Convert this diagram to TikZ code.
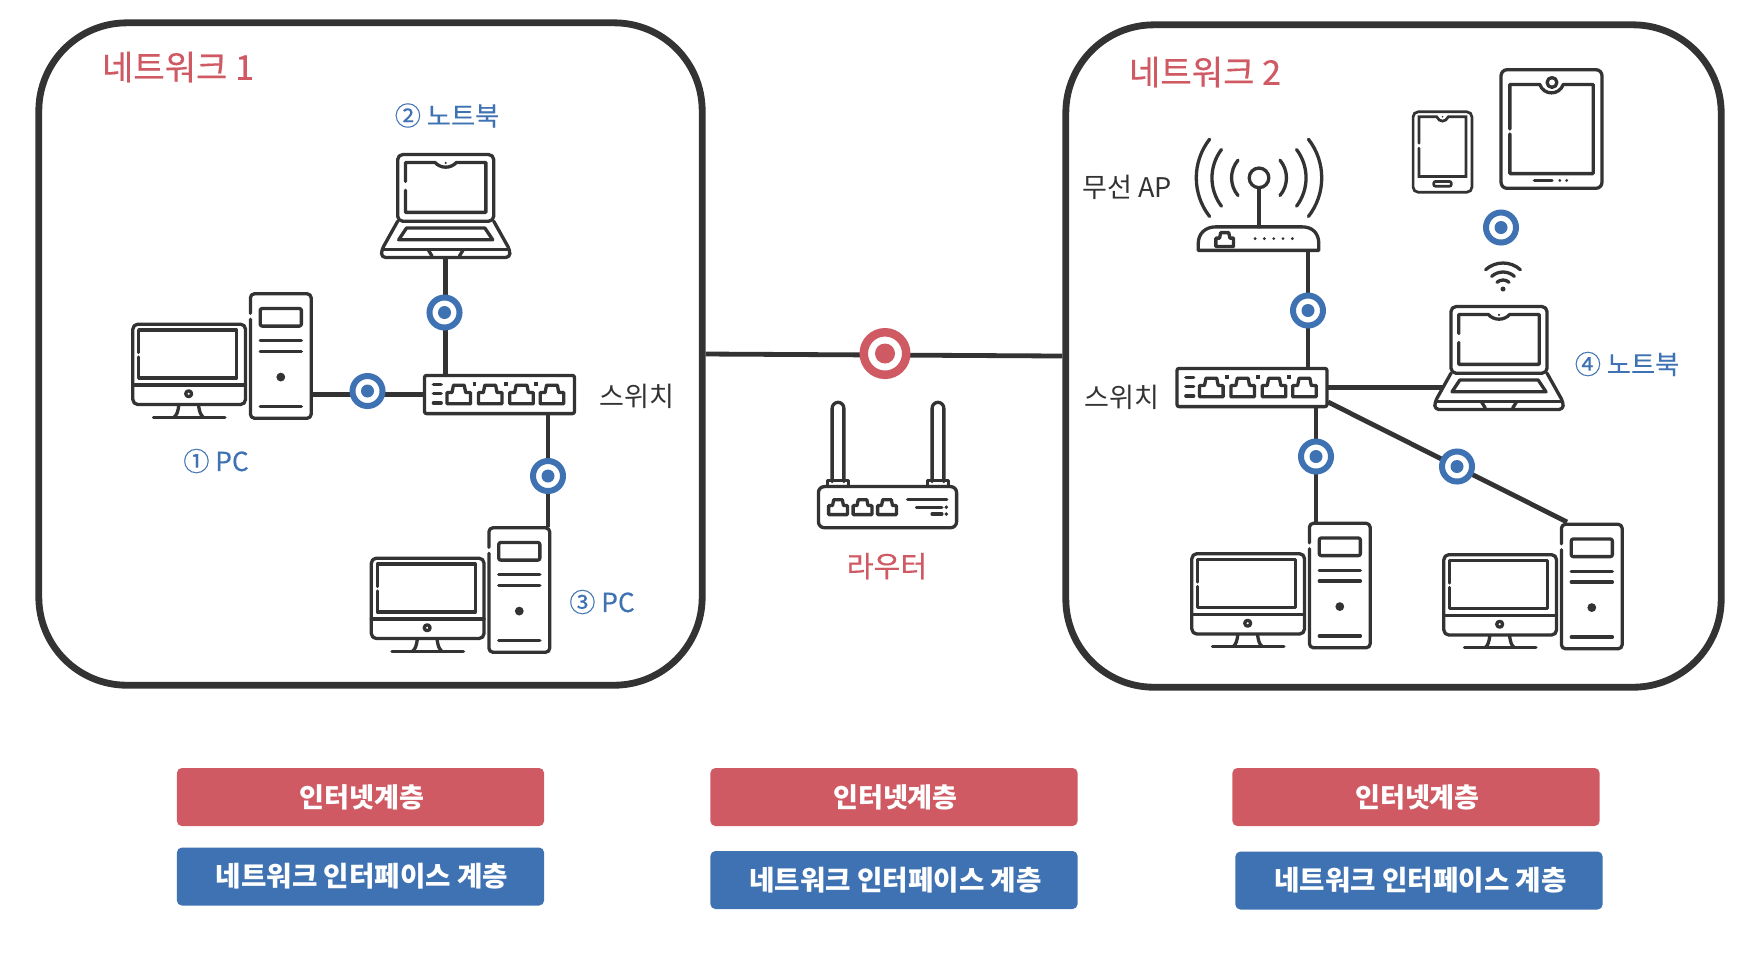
\documentclass[tikz,border=0pt]{standalone}
\usepackage{fontspec}
\usepackage{xcolor}
\usetikzlibrary{backgrounds}
\setmainfont{Noto Sans CJK KR}
\newfontfamily\medfont[FakeBold=0.35]{Noto Sans CJK KR}

\definecolor{netred}{HTML}{CF5A63}
\definecolor{netblue}{HTML}{3F72B2}
\definecolor{netdark}{HTML}{333333}

% ethernet jack: x, y, scale
\newcommand{\jackat}[3]{
  \draw[iconline,shift={(#1,#2)},scale=#3] (-12,9.5) -- (12,9.5) -- (12,-2) -- (7,-2) -- (5.5,-9.5) -- (-5.5,-9.5) -- (-7,-2) -- (-12,-2) -- cycle;
}
\newcommand{\btntxt}[1]{\hspace*{0.03cm}\raisebox{-0.03cm}{#1}}

\tikzset{
  iconline/.style={draw=netdark,line width=0.033cm,line join=round,line cap=round},
  thinline/.style={draw=netdark,line width=0.027cm,line cap=round},
  link/.style={draw=netdark,line width=0.048cm},
  netbox/.style={draw=netdark,line width=0.068cm,rounded corners=0.88cm,minimum height=6.62cm},
  iconnode/.style={inner sep=0pt,outer sep=0pt},
  iconpic/.style={scale=0.98},
  bluedot/.style={circle,inner sep=0pt,draw=netblue,fill=white,line width=0.06cm,minimum size=0.30cm,
    path picture={\fill[netblue] (path picture bounding box.center) circle (0.065cm);}},
  reddot/.style={circle,inner sep=0pt,draw=netred,fill=white,line width=0.085cm,minimum size=0.425cm,
    path picture={\fill[netred] (path picture bounding box.center) circle (0.10cm);}},
  nettitle/.style={text=netred,inner sep=0pt,font=\medfont\fontsize{9.7}{11}\selectfont},
  redtxt/.style={text=netred,inner sep=0pt,font=\medfont\fontsize{8.3}{10}\selectfont},
  bluetxt/.style={text=netblue,inner sep=0pt,font=\medfont\fontsize{7.45}{9}\selectfont},
  darktxt/.style={text=netdark,inner sep=0pt,font=\fontsize{7.7}{9}\selectfont},
  redbtn/.style={fill=netred,text=white,rounded corners=0.05cm,minimum width=3.67cm,minimum height=0.58cm,inner sep=0pt,font=\fontsize{7.7}{9}\selectfont\bfseries},
  bluebtn/.style={fill=netblue,text=white,rounded corners=0.05cm,minimum width=3.67cm,minimum height=0.58cm,inner sep=0pt,font=\fontsize{7.85}{9}\selectfont\bfseries},
  pcicon/.pic={
    \draw[iconline,rounded corners=0.05cm] (-91,-32.5) rectangle (24,49.5);
    \draw[iconline] (-85,1) -- (-85,22.5) -- (15,22.5) -- (15,-26.5) -- (-85,-26.5) -- (-85,-3.5);
    \draw[iconline] (-91,29.5) -- (24,29.5);
    \draw[iconline] (-34,38.5) circle (3);
    \draw[iconline] (-44,50) .. controls (-45,57) and (-46,60) .. (-49,62.5);
    \draw[iconline] (-24,50) .. controls (-23,57) and (-22,60) .. (-19,62.5);
    \draw[iconline] (-70,62.5) -- (3,62.5);
    \draw[iconline,rounded corners=0.04cm] (29,-37.5) -- (29,63.5) -- (91,63.5) -- (91,-63.5) -- (29,-63.5) -- (29,-43.5);
    \draw[iconline,rounded corners=0.02cm] (39,-48.5) rectangle (81,-30.5);
    \draw[iconline] (39,-15.5) -- (81,-15.5);
    \draw[iconline] (39,-4.5) -- (81,-4.5);
    \fill[netdark] (60,21.5) circle (4.5);
    \draw[iconline] (39,51.5) -- (81,51.5);
  },
  laptopicon/.pic={
    \draw[iconline,rounded corners=0.05cm] (-49,15.5) -- (-49,-52.5) -- (49,-52.5) -- (49,15.5) -- cycle;
    \draw[iconline] (-41,-16) -- (-41,6.5) -- (41,6.5) -- (41,-44.5) -- (11,-44.5) .. controls (5,-38) and (-5,-38) .. (-11,-44.5) -- (-41,-44.5) -- (-41,-25);
    \fill[netdark] (0,-44) circle (1.2);
    \draw[iconline] (-40,22.5) -- (40,22.5) -- (48,34.5) -- (-48,34.5) -- cycle;
    \draw[iconline,rounded corners=0.04cm] (-49,15.5) -- (-65.5,45) -- (-65.5,52.5) -- (65.5,52.5) -- (65.5,45) -- (49,15.5);
    \draw[iconline] (-64,44.5) -- (64,44.5);
    \draw[iconline] (-18,44.5) -- (-14,51) (18,44.5) -- (14,51);
  },
  switchicon/.pic={
    \draw[iconline,rounded corners=0.02cm] (-76.5,-19.5) rectangle (76.5,19.5);
    \foreach \px in {-41.5,-9.5,22.5,53.5} {
      \jackat{\px}{0}{1}
    }
    \foreach \ly in {-10.5,-1,8.5} {
      \draw[iconline] (-67.5,\ly) -- (-59.5,\ly);
    }
    \foreach \lx in {-25.5,6.5,37.5} {
      \fill[netdark] (\lx-2,-13) rectangle (\lx+2,-9);
    }
  },
  routericon/.pic={
    \draw[iconline,rounded corners=0.06cm] (-56.5,17) -- (-56.5,-64) -- (-44.5,-64) -- (-44.5,17);
    \draw[iconline,rounded corners=0.06cm] (45.5,17) -- (45.5,-64) -- (57.5,-64) -- (57.5,17);
    \draw[iconline] (-61.5,22) -- (-61.5,16) -- (-39.5,16) -- (-39.5,22);
    \draw[iconline] (40.5,22) -- (40.5,16) -- (62.5,16) -- (62.5,22);
    \draw[iconline,rounded corners=0.06cm] (-70.5,22) rectangle (70.5,64);
    \foreach \px in {-50.5,-25.5,-0.5} {
      \jackat{\px}{43}{0.8}
    }
    \draw[iconline] (20.5,35) -- (60.5,35);
    \draw[iconline] (29.5,43) -- (55.5,43);
    \draw[iconline] (45.5,50) -- (55.5,50);
    \fill[netdark] (60,43) circle (2);
    \fill[netdark] (60,50) circle (2);
  },
  apicon/.pic={
    \draw[iconline] (0,-17) circle (10);
    \draw[iconline] (0,-7) -- (0,33);
    \foreach \rr/\aa in {28/40,48/37,64/38} {
      \draw[iconline] (0,-17) ++(-\aa:\rr) arc (-\aa:\aa:\rr);
      \draw[iconline] (0,-17) ++(180-\aa:\rr) arc (180-\aa:180+\aa:\rr);
    }
    \draw[iconline] (-62,57) -- (-62,50) .. controls (-62,40) and (-55,33) .. (-44,33) -- (44,33) .. controls (55,33) and (61,40) .. (61,50) -- (61,57) -- cycle;
    \jackat{-35}{46}{0.75}
    \foreach \px in {-4,5.5,15,24.5,34} {
      \fill[netdark] (\px,45) circle (1.6);
    }
  },
  tableticon/.pic={
    \draw[iconline,rounded corners=0.06cm] (-51.5,-60.5) rectangle (51.5,60.5);
    \draw[iconline] (-42.5,5) -- (-42.5,45.5) -- (42.5,45.5) -- (42.5,-45.5) -- (12,-45.5) .. controls (8,-34) and (-8,-34) .. (-12,-45.5) -- (-42.5,-45.5) -- (-42.5,0);
    \draw[iconline] (0.5,-47.5) circle (5);
    \draw[iconline] (-17.5,52.5) -- (0.5,52.5);
    \fill[netdark] (8.5,52.5) circle (1.6);
    \fill[netdark] (15.5,52.5) circle (1.6);
  },
  phoneicon/.pic={
    \draw[thinline,rounded corners=0.05cm] (-30,-41) rectangle (30,41);
    \draw[thinline] (-24,-4) -- (-24,25) -- (24,25) -- (24,-36) -- (6,-36) .. controls (3,-30) and (-3,-30) .. (-6,-36) -- (-24,-36) -- (-24,-9);
    \fill[netdark] (0,-36) circle (1);
    \draw[thinline,rounded corners=0.02cm] (-9,30) rectangle (9,35);
  },
  wifiicon/.pic={
    \fill[netdark] (0,13) circle (2.5);
    \foreach \rr in {9,17,26} {
      \draw[iconline] (0,13) ++(-132:\rr) arc (-132:-48:\rr);
    }
  }
}

\begin{document}
\begin{tikzpicture}[x=0.01cm,y=-0.01cm]
  \useasboundingbox (0,0) rectangle (1748,956);

  % Networks
  \node[netbox,minimum width=6.63cm] (net1) at (370.5,354) {};
  \node[netbox,minimum width=6.55cm] (net2) at (1393.5,356) {};
  \node[nettitle] (title1) at (178,67) {네트워크 1};
  \node[nettitle] (title2) at (1205,72) {네트워크 2};

  % Devices of network 1
  \node[iconnode,minimum width=1.79cm,minimum height=1.25cm] (pc1) at (222,356) {};
  \node[iconnode,minimum width=1.29cm,minimum height=1.03cm] (lap1) at (445.7,206) {};
  \node[iconnode,minimum width=1.50cm,minimum height=0.38cm] (sw1) at (499.5,394.5) {};
  \node[iconnode,minimum width=1.79cm,minimum height=1.25cm] (pc3) at (460.5,590) {};
  \pic[iconpic] at (pc1) {pcicon};
  \pic[iconpic] at (lap1) {laptopicon};
  \pic[iconpic] at (sw1) {switchicon};
  \pic[iconpic] at (pc3) {pcicon};

  % Router
  \node[iconnode,minimum width=1.38cm,minimum height=1.25cm] (router) at (887.5,465) {};
  \pic[iconpic] at (router) {routericon};

  % Devices of network 2
  \node[iconnode,minimum width=1.27cm,minimum height=1.14cm] (ap) at (1259,194.5) {};
  \node[iconnode,minimum width=1.01cm,minimum height=1.19cm] (tablet) at (1551.5,129) {};
  \node[iconnode,minimum width=0.59cm,minimum height=0.80cm] (phone) at (1442.5,152) {};
  \node[iconnode,minimum width=0.34cm,minimum height=0.30cm] (wifi) at (1503,276) {};
  \node[iconnode,minimum width=1.29cm,minimum height=1.03cm] (lap2) at (1499,358) {};
  \node[iconnode,minimum width=1.50cm,minimum height=0.38cm] (sw2) at (1252,387.5) {};
  \node[iconnode,minimum width=1.79cm,minimum height=1.25cm] (pc5) at (1281,585.5) {};
  \node[iconnode,minimum width=1.79cm,minimum height=1.25cm] (pc6) at (1533,586.5) {};
  \pic[iconpic] at (ap) {apicon};
  \pic[iconpic] at (tablet) {tableticon};
  \pic[iconpic] at (phone) {phoneicon};
  \pic at (wifi) {wifiicon};
  \pic[iconpic] at (lap2) {laptopicon};
  \pic[iconpic] at (sw2) {switchicon};
  \pic[iconpic] at (pc5) {pcicon};
  \pic[iconpic] at (pc6) {pcicon};

  % Address marks
  \node[bluedot] (dot1) at (367.5,391) {};
  \node[bluedot] (dot2) at (444.5,312.5) {};
  \node[bluedot] (dot3) at (548,476) {};
  \node[reddot] (dot4) at (885,353.5) {};
  \node[bluedot] (dot5) at (1308,310.5) {};
  \node[bluedot] (dot6) at (1501,227.5) {};
  \node[bluedot] (dot7) at (1316,456.5) {};
  \node[bluedot] (dot8) at (1457,466.5) {};

  % Ports
  \coordinate (lap2port) at (1443,387.5);
  \coordinate (sw2port) at (1328,402);
  \coordinate (pc6port) at (1567,522);

  % Draw edges
  \begin{scope}[on background layer]
    \draw[link] (net1.east) -- (net2.west);
    \draw[link] (pc1.east |- sw1.west) -- (sw1.west);
    \draw[link] (lap1.south) -- (lap1.south |- sw1.north);
    \draw[link] (sw1.south -| dot3) -- (pc3.north -| dot3);
    \draw[link] (ap.south -| dot5) -- (sw2.north -| dot5);
    \draw[link] (sw2.east) -- (lap2port);
    \draw[link] (sw2.south -| dot7) -- (pc5.north -| dot7);
    \draw[link] (sw2port) -- (pc6port);
  \end{scope}

  % Labels
  \node[bluetxt] (lb1) at (216,461) {① PC};
  \node[bluetxt] (lb2) at (447,115.5) {② 노트북};
  \node[bluetxt] (lb3) at (602,602) {③ PC};
  \node[bluetxt] (lb4) at (1627,364) {④ 노트북};
  \node[darktxt] (lbsw1) at (637,396.5) {스위치};
  \node[darktxt] (lbsw2) at (1122,397.5) {스위치};
  \node[darktxt] (lbap) at (1127,187) {무선 AP};
  \node[redtxt] (lbrouter) at (887,566) {라우터};

  % Layers
  \node[redbtn] (inet1) at (360.5,797) {\btntxt{인터넷계층}};
  \node[bluebtn] (link1) at (360.5,876.5) {\btntxt{네트워크 인터페이스 계층}};
  \node[redbtn] (inet2) at (894,797) {\btntxt{인터넷계층}};
  \node[bluebtn] (link2) at (894,880) {\btntxt{네트워크 인터페이스 계층}};
  \node[redbtn] (inet3) at (1416,797) {\btntxt{인터넷계층}};
  \node[bluebtn] (link3) at (1419,880.5) {\btntxt{네트워크 인터페이스 계층}};
\end{tikzpicture}
\end{document}
